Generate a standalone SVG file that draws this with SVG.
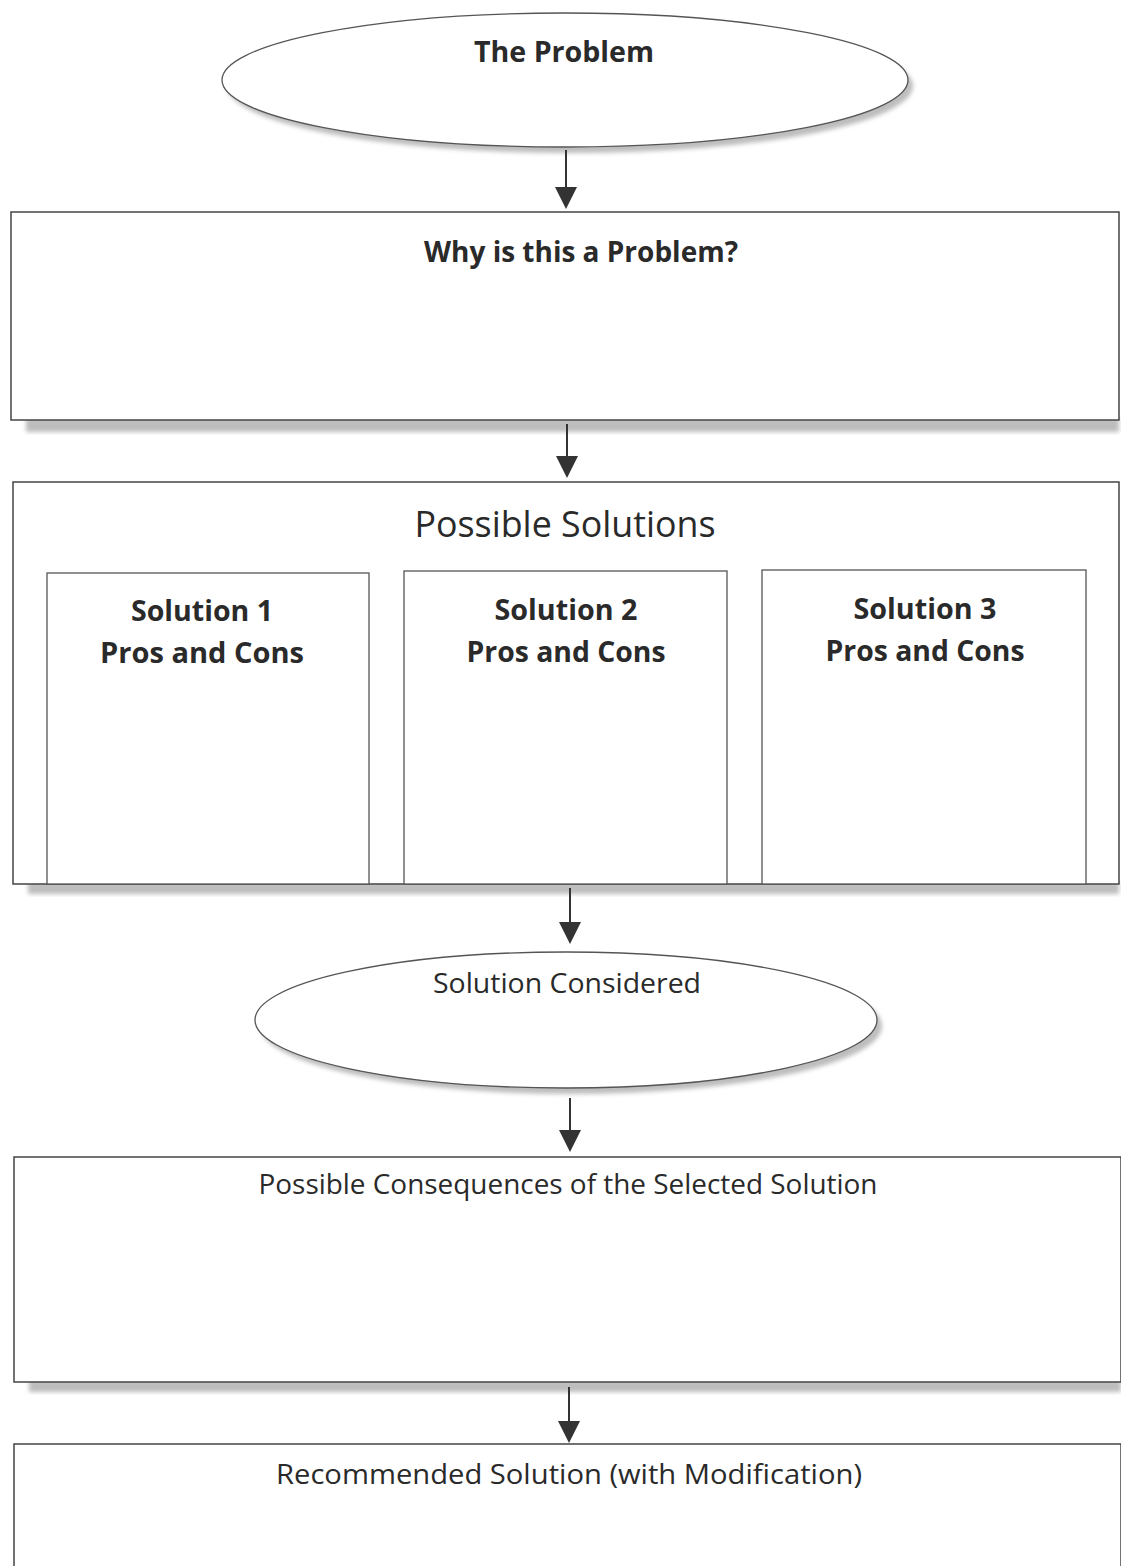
<svg xmlns="http://www.w3.org/2000/svg" width="1121" height="1566" viewBox="0 0 1121 1566">
<style>
.box{fill:#fff;stroke:#444;stroke-width:1.5}
.inner{fill:#fff;stroke:#555;stroke-width:1.3}
.sh{fill:#bdbdbd;filter:url(#blur)}
.t{font-family:"Open Sans","Noto Sans","Liberation Sans",sans-serif;fill:#2a2a2a;text-anchor:middle}
.b{font-weight:bold}
.r{font-weight:500}
.conn line{stroke:#333;stroke-width:2;marker-end:url(#ah)}
</style>
<defs>
<filter id="blur" x="-5%" y="-20%" width="110%" height="140%"><feGaussianBlur stdDeviation="2"/></filter>
<marker id="ah" markerWidth="22" markerHeight="22" refX="20" refY="11" orient="auto" markerUnits="userSpaceOnUse" viewBox="0 0 22 22">
<path d="M0,0 L22,11 L0,22 Z" fill="#333"/>
</marker>
</defs>
<rect width="1121" height="1566" fill="#fff"/>
<g id="problem">
<ellipse class="sh" cx="570" cy="86" rx="343" ry="67"/>
<ellipse cx="565" cy="80" rx="343" ry="67" fill="#fff" stroke="#555" stroke-width="1.3"/>
<text class="t b" x="564" y="62" font-size="28" textLength="180" lengthAdjust="spacingAndGlyphs">The Problem</text>
</g>
<g id="why">
<rect class="sh" x="26" y="418" width="1093" height="14"/>
<rect class="box" x="11" y="212" width="1108" height="208"/>
<text class="t b" x="581" y="262" font-size="28" textLength="314" lengthAdjust="spacingAndGlyphs">Why is this a Problem?</text>
</g>
<g id="solutions">
<rect class="sh" x="28" y="882" width="1091" height="12"/>
<rect class="box" x="13" y="482" width="1106" height="402"/>
<text class="t r" x="565" y="537" font-size="36" textLength="301" lengthAdjust="spacingAndGlyphs">Possible Solutions</text>
</g>
<g id="solution1">
<rect class="inner" x="47" y="573" width="322" height="311"/>
<text class="t b" x="202" y="621" font-size="28" textLength="142" lengthAdjust="spacingAndGlyphs">Solution 1</text>
<text class="t b" x="202" y="663" font-size="28" textLength="204" lengthAdjust="spacingAndGlyphs">Pros  and Cons</text>
</g>
<g id="solution2">
<rect class="inner" x="404" y="571" width="323" height="313"/>
<text class="t b" x="566" y="620" font-size="28" textLength="143" lengthAdjust="spacingAndGlyphs">Solution 2</text>
<text class="t b" x="566" y="662" font-size="28" textLength="199" lengthAdjust="spacingAndGlyphs">Pros and Cons</text>
</g>
<g id="solution3">
<rect class="inner" x="762" y="570" width="324" height="314"/>
<text class="t b" x="925" y="619" font-size="28" textLength="143" lengthAdjust="spacingAndGlyphs">Solution 3</text>
<text class="t b" x="925" y="661" font-size="28" textLength="199" lengthAdjust="spacingAndGlyphs">Pros and Cons</text>
</g>
<g id="considered">
<ellipse class="sh" cx="571" cy="1026" rx="311" ry="68"/>
<ellipse cx="566" cy="1020" rx="311" ry="68" fill="#fff" stroke="#555" stroke-width="1.3"/>
<text class="t r" x="567" y="993" font-size="28" textLength="268" lengthAdjust="spacingAndGlyphs">Solution Considered</text>
</g>
<g id="consequences">
<rect class="sh" x="29" y="1380" width="1092" height="12"/>
<rect class="box" x="14" y="1157" width="1107" height="225"/>
<text class="t r" x="568" y="1194" font-size="28" textLength="619" lengthAdjust="spacingAndGlyphs">Possible Consequences of the Selected Solution</text>
</g>
<g id="recommended">
<rect class="box" x="14" y="1444" width="1107" height="130"/>
<text class="t r" x="569" y="1484" font-size="28" textLength="586" lengthAdjust="spacingAndGlyphs">Recommended Solution (with Modification)</text>
</g>
<g id="connectors" class="conn">
<line x1="566" y1="150" x2="566" y2="207"/>
<line x1="567" y1="424" x2="567" y2="476"/>
<line x1="570" y1="888" x2="570" y2="942"/>
<line x1="570" y1="1098" x2="570" y2="1150"/>
<line x1="569" y1="1387" x2="569" y2="1441"/>
</g>
</svg>
